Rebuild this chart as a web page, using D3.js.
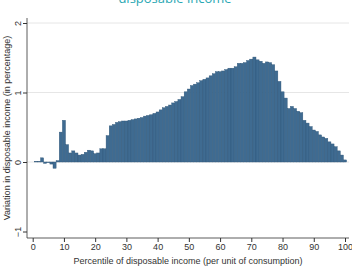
<!DOCTYPE html>
<html lang="en">
  <head>
    <meta charset="utf-8">
    <title>Variation in disposable income</title>
    <style>
      body { margin: 0; background: white; }
      svg { display: block; }
      .tick text { font-family: "Liberation Sans", Arial, sans-serif; font-size: 9px; fill: #333; }
    </style>
    <script src="https://d3js.org/d3.v7.min.js"></script>
  </head>
  <body>
    <div class="viz"></div>
    <script>
    // percentile 1..100 and variation (in %)
    const percentiles = d3.range(1, 101)
    const variation = [
      0.01, 0.01, 0.06, -0.02, -0.01, -0.03, -0.09, 0.02, 0.43, 0.60,
      0.25, 0.13, 0.16, 0.13, 0.10, 0.11, 0.14, 0.17, 0.16, 0.12,
      0.13, 0.19, 0.19, 0.38, 0.52, 0.54, 0.57, 0.58, 0.59, 0.59,
      0.60, 0.61, 0.62, 0.63, 0.64, 0.66, 0.67, 0.68, 0.70, 0.72,
      0.75, 0.78, 0.80, 0.82, 0.85, 0.87, 0.90, 0.94, 1.01, 1.05,
      1.10, 1.12, 1.14, 1.17, 1.19, 1.21, 1.24, 1.27, 1.30, 1.30,
      1.31, 1.33, 1.35, 1.35, 1.37, 1.42, 1.42, 1.43, 1.46, 1.48,
      1.51, 1.47, 1.45, 1.42, 1.44, 1.43, 1.40, 1.31, 1.16, 1.01,
      0.92, 0.77, 0.80, 0.77, 0.73, 0.71, 0.60, 0.56, 0.51, 0.46,
      0.44, 0.39, 0.36, 0.34, 0.29, 0.26, 0.22, 0.16, 0.10, 0.03
    ]
    const xTicks = d3.range(0, 101, 10)
    const yTicks = [-1, 0, 1, 2]
    const gridTicks = [0, 1, 2]

    const width = 352, height = 269

    const svg = d3.select(".viz")
      .append("svg")
      .attr("width", width)
      .attr("height", height)
      .style("background-color", "white")

    const x = d3.scaleLinear().domain([0, 100]).range([32.7, 345])
    const y = d3.scaleLinear().domain([-1, 2]).range([231.5, 23])

    const plotLeft = 27, plotRight = 349, plotBottom = 238, plotTop = 18

    // grid lines
    svg.append("g")
      .selectAll("line")
      .data(gridTicks)
      .join("line")
      .attr("x1", plotLeft)
      .attr("x2", plotRight)
      .attr("y1", d => y(d))
      .attr("y2", d => y(d))
      .attr("stroke", "#e6e6e6")
      .attr("stroke-width", 1)

    const data = percentiles.map((p, i) => ({ p: p, v: variation[i] }))

    svg.append("g")
      .selectAll("rect")
      .data(data)
      .join("rect")
      .attr("x", d => x(d.p - 0.5))
      .attr("width", d => x(d.p + 0.5) - x(d.p - 0.5))
      .attr("y", d => y(Math.max(0, d.v)))
      .attr("height", d => Math.abs(y(d.v) - y(0)))
      .attr("fill", "#3f6b91")
      .attr("stroke", "#2e5577")
      .attr("stroke-width", 0.4)

    // x axis
    const xAxis = svg.append("g")
      .attr("transform", `translate(0,${plotBottom})`)
      .call(d3.axisBottom(x).tickValues(xTicks).tickSize(4).tickPadding(2))
    xAxis.select(".domain").remove()
    xAxis.selectAll(".tick line").attr("stroke", "#333")
    svg.append("line")
      .attr("x1", plotLeft).attr("x2", plotRight)
      .attr("y1", plotBottom).attr("y2", plotBottom)
      .attr("stroke", "#333").attr("stroke-width", 0.8)

    // y axis
    const yAxis = svg.append("g")
      .attr("transform", `translate(${plotLeft},0)`)
      .call(d3.axisLeft(y).tickValues(yTicks).tickSize(4).tickFormat(d3.format("d")))
    yAxis.select(".domain").remove()
    yAxis.selectAll(".tick line").attr("stroke", "#333")
    yAxis.selectAll(".tick text")
      .attr("transform", "rotate(-90)")
      .attr("x", 0)
      .attr("y", -6)
      .attr("dy", 0)
      .style("text-anchor", "middle")
    svg.append("line")
      .attr("x1", plotLeft).attr("x2", plotLeft)
      .attr("y1", plotTop).attr("y2", plotBottom)
      .attr("stroke", "#333").attr("stroke-width", 0.8)

    // titles
    svg.append("text")
      .attr("x", 188)
      .attr("y", 264)
      .text("Percentile of disposable income (per unit of consumption)")
      .style("text-anchor", "middle")
      .style("font-family", "Liberation Sans, Arial, sans-serif")
      .style("font-size", "9px")
      .style("fill", "#333")

    svg.append("text")
      .attr("transform", "translate(10,128) rotate(-90)")
      .text("Variation in disposable income (in percentage)")
      .style("text-anchor", "middle")
      .style("font-family", "Liberation Sans, Arial, sans-serif")
      .style("font-size", "9px")
      .style("fill", "#333")

    // title is partly above the picture, as in the reference
    svg.append("text")
      .attr("x", 175)
      .attr("y", 3)
      .text("disposable income")
      .style("text-anchor", "middle")
      .style("font-family", "Open Sans, sans-serif")
      .style("font-size", "13px")
      .style("fill", "#2aa7b3")
    </script>
  </body>
</html>
